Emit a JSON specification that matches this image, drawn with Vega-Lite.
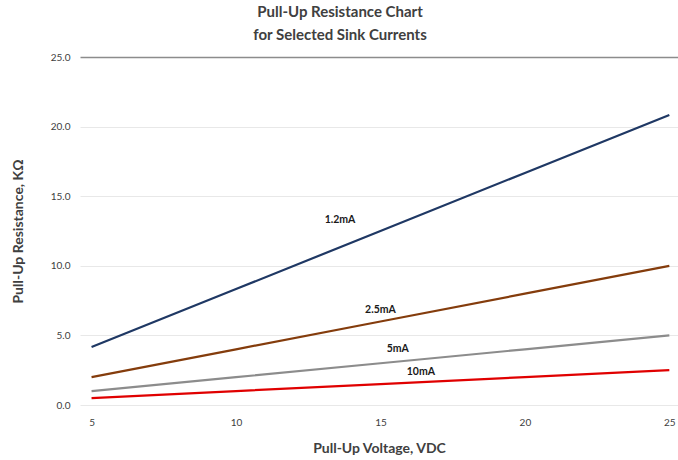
{
  "$schema": "https://vega.github.io/schema/vega-lite/v6.json",
  "autosize": {"type": "none"},
  "padding": {"left": 80, "top": 57, "right": 0, "bottom": 55},
  "width": 598,
  "height": 348,
  "background": "white",
  "config": {"view": {"stroke": null}, "font": "Lato"},
  "title": {
    "text": ["Pull-Up Resistance Chart", "for Selected Sink Currents"],
    "font": "Lato",
    "fontSize": 15,
    "fontWeight": "bold",
    "color": "#404040",
    "anchor": "middle",
    "dx": -39,
    "offset": 9,
    "lineHeight": 23
  },
  "datasets": {
    "lines": [
      {"v": 5, "r": 4.17, "s": "1.2mA"},
      {"v": 10, "r": 8.33, "s": "1.2mA"},
      {"v": 15, "r": 12.5, "s": "1.2mA"},
      {"v": 20, "r": 16.67, "s": "1.2mA"},
      {"v": 25, "r": 20.83, "s": "1.2mA"},
      {"v": 5, "r": 2.0, "s": "2.5mA"},
      {"v": 10, "r": 4.0, "s": "2.5mA"},
      {"v": 15, "r": 6.0, "s": "2.5mA"},
      {"v": 20, "r": 8.0, "s": "2.5mA"},
      {"v": 25, "r": 10.0, "s": "2.5mA"},
      {"v": 5, "r": 1.0, "s": "5mA"},
      {"v": 10, "r": 2.0, "s": "5mA"},
      {"v": 15, "r": 3.0, "s": "5mA"},
      {"v": 20, "r": 4.0, "s": "5mA"},
      {"v": 25, "r": 5.0, "s": "5mA"},
      {"v": 5, "r": 0.5, "s": "10mA"},
      {"v": 10, "r": 1.0, "s": "10mA"},
      {"v": 15, "r": 1.5, "s": "10mA"},
      {"v": 20, "r": 2.0, "s": "10mA"},
      {"v": 25, "r": 2.5, "s": "10mA"}
    ],
    "labels": [
      {"v": 13.6, "r": 13.3, "s": "1.2mA"},
      {"v": 15.0, "r": 6.8, "s": "2.5mA"},
      {"v": 15.6, "r": 4.0, "s": "5mA"},
      {"v": 16.4, "r": 2.37, "s": "10mA"}
    ]
  },
  "layer": [
    {
      "data": {"name": "lines"},
      "mark": {"type": "line", "strokeWidth": 2.2},
      "encoding": {
        "x": {
          "field": "v",
          "type": "quantitative",
          "scale": {"domain": [4.6, 25.3], "nice": false, "zero": false},
          "axis": {
            "values": [5, 10, 15, 20, 25],
            "grid": false,
            "domain": false,
            "ticks": false,
            "labelPadding": 12,
            "labelFontSize": 10,
            "labelColor": "#404040",
            "labelFont": "Lato",
            "title": "Pull-Up Voltage, VDC",
            "titleFont": "Lato",
            "titleFontSize": 14,
            "titleFontWeight": "bold",
            "titleColor": "#404040",
            "titlePadding": 14
          }
        },
        "y": {
          "field": "r",
          "type": "quantitative",
          "scale": {"domain": [0, 25], "nice": false},
          "axis": {
            "values": [0, 5, 10, 15, 20, 25],
            "format": ".1f",
            "domain": false,
            "ticks": false,
            "grid": true,
            "gridColor": {"condition": {"test": "datum.value == 25", "value": "#8c8c8c"}, "value": "#e8e8e8"},
            "gridWidth": {"condition": {"test": "datum.value == 25", "value": 1.3}, "value": 1},
            "labelPadding": 10,
            "labelFontSize": 10,
            "labelColor": "#404040",
            "labelFont": "Lato",
            "title": "Pull-Up Resistance, KΩ",
            "titleFont": "Lato",
            "titleFontSize": 14,
            "titleFontWeight": "bold",
            "titleColor": "#404040",
            "titlePadding": 25
          }
        },
        "color": {
          "field": "s",
          "type": "nominal",
          "scale": {
            "domain": ["1.2mA", "2.5mA", "5mA", "10mA"],
            "range": ["#1f3864", "#843c0c", "#8c8c8c", "#e00000"]
          },
          "legend": null
        }
      }
    },
    {
      "data": {"name": "labels"},
      "mark": {"type": "text", "fontSize": 10.5, "fontWeight": "bold", "color": "#1a1a1a", "font": "Lato"},
      "encoding": {
        "x": {"field": "v", "type": "quantitative"},
        "y": {"field": "r", "type": "quantitative"},
        "text": {"field": "s"}
      }
    }
  ]
}
